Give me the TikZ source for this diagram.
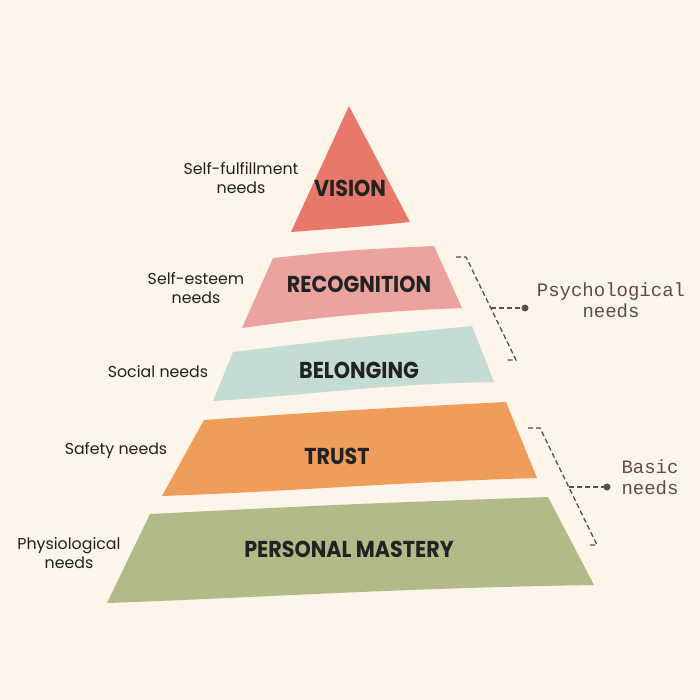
\documentclass[tikz,border=0pt]{standalone}
\usepackage{fontspec}
\setmainfont{Poppins}
\newfontfamily\monofont{Liberation Mono}
\definecolor{bgcream}{HTML}{FDF4EA}
\definecolor{cvision}{HTML}{E8786A}
\definecolor{crecog}{HTML}{EBA3A0}
\definecolor{cbelong}{HTML}{C4DCD1}
\definecolor{ctrust}{HTML}{EE9D5A}
\definecolor{cmastery}{HTML}{B0BB87}
\definecolor{ctext}{HTML}{222222}
\definecolor{cbracket}{HTML}{5A4E4E}
\tikzset{
  level/.style={fill=#1, draw=none},
  title/.style={font=\fontsize{23}{26}\selectfont\bfseries, text=ctext, xscale=0.9},
  side/.style={font=\fontsize{15.8}{19}\selectfont, text=ctext, align=center},
  note/.style={font=\monofont\fontsize{19}{21}\selectfont, text=cbracket, align=center},
  bracket/.style={draw=cbracket, dash pattern=on 5pt off 3pt, line width=1.3pt},
}
\begin{document}
\begin{tikzpicture}[x=1pt,y=-1pt]
\fill[bgcream] (0,0) rectangle (700,700);
\useasboundingbox (0,0) rectangle (700,700);

% Pyramid levels
\fill[level=cvision] (349,106) -- (410,222) .. controls (370,226) .. (291,232) -- cycle;
\fill[level=crecog] (273,258) .. controls (350,250) .. (434,246) -- (462,308)
  .. controls (360,312) and (300,320) .. (242,328) -- cycle;
\fill[level=cbelong] (233,352) .. controls (350,338) .. (472,326) -- (494,382)
  .. controls (380,384) and (300,396) .. (213,401) -- cycle;
\fill[level=ctrust] (204,420) .. controls (350,410) .. (506,402) -- (537,478)
  .. controls (400,482) and (280,492) .. (162,496) -- cycle;
\fill[level=cmastery] (150,514) .. controls (350,504) .. (548,497) -- (594,585)
  .. controls (400,588) and (250,598) .. (107,603) -- cycle;

% Level titles
\node[title] (vision) at (350,188) {VISION};
\node[title] (recog) at (359,284) {RECOGNITION};
\node[title] (belong) at (359,370) {BELONGING};
\node[title] (trust) at (337,456) {TRUST};
\node[title] (mastery) at (349,549) {PERSONAL MASTERY};

% Side labels
\node[side] (fulfil) at (241,178) {Self-fulfillment\\needs};
\node[side] (esteem) at (196,288) {Self-esteem\\needs};
\node[side] (social) at (158,372) {Social needs};
\node[side] (safety) at (116,450) {Safety needs};
\node[side] (physio) at (69,553) {Physiological\\needs};

% Brackets
\coordinate (p1) at (456,257);
\coordinate (p2) at (466,257);
\coordinate (p3) at (516,360);
\coordinate (p4) at (506,360);
\coordinate (pm) at (491,308);
\coordinate (pd) at (525,308);
\draw[bracket] (p1) -- (p2) -- (p3) -- (p4);
\draw[bracket] (pm) -- (pd);
\fill[cbracket] (pd) circle (3.5);
\node[note] (psych) at (611,300) {Psychological\\needs};

\coordinate (b1) at (528,428);
\coordinate (b2) at (540,428);
\coordinate (b3) at (597,545);
\coordinate (b4) at (587,545);
\coordinate (bm) at (569,487);
\coordinate (bd) at (607,487);
\draw[bracket] (b1) -- (b2) -- (b3) -- (b4);
\draw[bracket] (bm) -- (bd);
\fill[cbracket] (bd) circle (3.5);
\node[note] (basic) at (650,477) {Basic\\needs};
\end{tikzpicture}
\end{document}
